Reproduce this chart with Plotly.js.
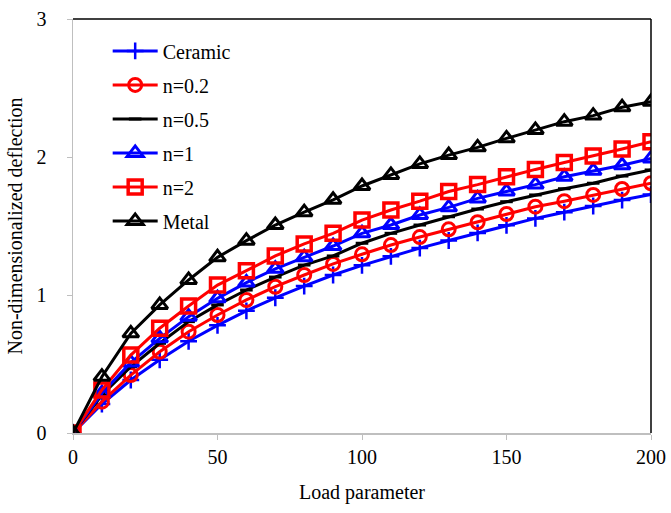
<!DOCTYPE html>
<html>
<head>
<meta charset="utf-8">
<script src="https://cdn.plot.ly/plotly-3.0.1.min.js"></script>
<style>html,body{margin:0;padding:0;background:#fff}#chart{width:671px;height:513px}</style>
</head>
<body>
<div id="chart"></div>
<script>
const loadParam = [0,10,20,30,40,50,60,70,80,90,100,110,120,130,140,150,160,170,180,190,200];
const ceramic = [0,0.21,0.384,0.53,0.665,0.78,0.885,0.98,1.065,1.145,1.215,1.28,1.34,1.395,1.45,1.505,1.555,1.60,1.645,1.688,1.728];
const n02 = [0,0.227,0.42,0.589,0.734,0.855,0.964,1.06,1.145,1.225,1.295,1.362,1.42,1.476,1.527,1.587,1.64,1.68,1.725,1.768,1.81];
const n05 = [0,0.275,0.48,0.65,0.807,0.928,1.036,1.13,1.217,1.283,1.375,1.447,1.507,1.567,1.623,1.676,1.725,1.77,1.81,1.862,1.906];
const n1 = [0,0.288,0.51,0.686,0.843,0.976,1.09,1.19,1.273,1.355,1.447,1.507,1.58,1.635,1.70,1.75,1.80,1.857,1.90,1.94,1.99];
const n2 = [0,0.312,0.565,0.759,0.92,1.072,1.176,1.283,1.37,1.447,1.543,1.616,1.68,1.75,1.80,1.857,1.91,1.96,2.007,2.058,2.11];
const metal = [0,0.408,0.722,0.928,1.109,1.273,1.394,1.507,1.60,1.69,1.79,1.87,1.95,2.014,2.07,2.135,2.196,2.256,2.30,2.36,2.40];
const seriesNames = ["Ceramic","n=0.2","n=0.5","n=1","n=2","Metal"];

const FONT = "Times New Roman, Liberation Serif, serif";
function tr(name, y, color, symbol, size, lw, mw) {
  return {
    x: loadParam, y: y, name: name, legendgroup: name, type: "scatter", mode: "lines+markers",
    line: {color: color, width: lw || 3},
    marker: {symbol: symbol, size: size, color: color, line: {color: color, width: mw || 3}}
  };
}
const data = [
  tr(seriesNames[0], ceramic, "#0000ff", "cross-thin-open", 12, 3, 2.5),
  tr(seriesNames[1], n02, "#ff0000", "circle-open", 13),
  tr(seriesNames[2], n05, "#000000", "line-ew-open", 9, 3, 3),
  tr(seriesNames[3], n1, "#0000ff", "triangle-up-open", 14),
  tr(seriesNames[4], n2, "#ff0000", "square-open", 14, 3, 3.5),
  tr(seriesNames[5], metal, "#000000", "triangle-up-open", 14)
];
const layout = {
  width: 671, height: 513,
  margin: {l: 73, r: 20, t: 19, b: 80},
  paper_bgcolor: "#fff", plot_bgcolor: "#fff",
  font: {family: FONT, color: "#000", size: 20},
  showlegend: true,
  legend: {x: 0.06, y: 0.97, xanchor: "left", yanchor: "top", bgcolor: "rgba(0,0,0,0)",
           font: {family: FONT, size: 20, color: "#000"}, traceorder: "grouped", tracegroupgap: 5, itemwidth: 45},
  xaxis: {
    range: [0, 200], tickvals: [0,50,100,150,200], ticks: "outside", ticklen: 5, tickcolor: "#bfbfbf",
    showline: true, linecolor: "#bfbfbf", linewidth: 1.5, showgrid: false, zeroline: false,
    tickfont: {family: FONT, size: 20, color: "#000"}, title: {text: "Load parameter", font: {family: FONT, size: 20, color: "#000"}, standoff: 18}
  },
  yaxis: {
    range: [0, 3], tickvals: [0,1,2,3], ticks: "outside", ticklen: 5, tickcolor: "#bfbfbf", ticklabelstandoff: 16,
    showline: true, linecolor: "#bfbfbf", linewidth: 1.5, showgrid: false, zeroline: false,
    tickfont: {family: FONT, size: 20, color: "#000"}, title: {text: "Non-dimensionalized deflection", font: {family: FONT, size: 20, color: "#000"}, standoff: 8}
  },
  shapes: [
    {type: "line", xref: "paper", yref: "paper", x0: 0, x1: 1, y0: 1, y1: 1, line: {color: "#000", width: 1.5}},
    {type: "line", xref: "paper", yref: "paper", x0: 1, x1: 1, y0: 0, y1: 1, line: {color: "#000", width: 1.5}}
  ]
};
Plotly.newPlot("chart", data, layout, {displayModeBar: false, staticPlot: true});
</script>
</body>
</html>
